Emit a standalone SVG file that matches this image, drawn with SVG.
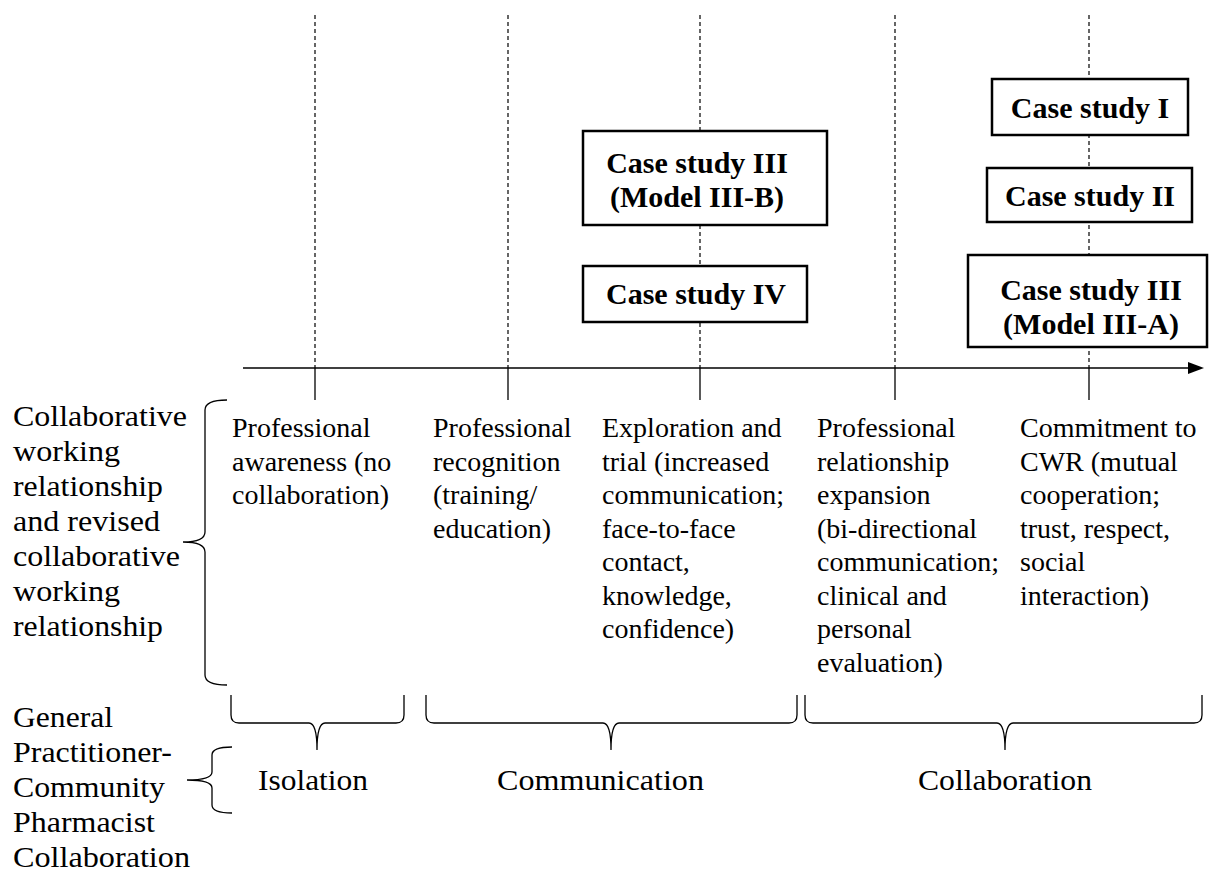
<svg xmlns="http://www.w3.org/2000/svg" width="1209" height="876" viewBox="0 0 1209 876">
<style>
.bg{fill:#fff}
.dash{stroke:#000;stroke-width:1.2;stroke-dasharray:4,3;fill:none}
.tick{stroke:#000;stroke-width:1.3;fill:none}
.axis{stroke:#000;stroke-width:1.5;fill:none}
.brace{stroke:#000;stroke-width:1.3;fill:none}
.box{fill:#fff;stroke:#000;stroke-width:2.5}
.bt{font-family:"Liberation Serif","Times New Roman",serif;font-weight:bold;font-size:30px;fill:#000;text-anchor:middle}
.mt{font-family:"Liberation Serif","Times New Roman",serif;font-size:28px;fill:#000}
.lt{font-family:"Liberation Serif","Times New Roman",serif;font-size:30px;fill:#000}
.ct{font-family:"Liberation Serif","Times New Roman",serif;font-size:30px;fill:#000}
</style>
<rect class="bg" x="0" y="0" width="1209" height="876"/>
<g id="connectors">
  <line class="dash" x1="315" y1="15" x2="315" y2="368"/>
  <line class="dash" x1="508" y1="15" x2="508" y2="368"/>
  <line class="dash" x1="700" y1="15" x2="700" y2="368"/>
  <line class="dash" x1="895" y1="15" x2="895" y2="368"/>
  <line class="dash" x1="1089" y1="15" x2="1089" y2="368"/>
  <line class="tick" x1="315" y1="368" x2="315" y2="400"/>
  <line class="tick" x1="508" y1="368" x2="508" y2="400"/>
  <line class="tick" x1="700" y1="368" x2="700" y2="400"/>
  <line class="tick" x1="895" y1="368" x2="895" y2="400"/>
  <line class="tick" x1="1089" y1="368" x2="1089" y2="400"/>
  <line class="axis" x1="243" y1="368" x2="1192" y2="368"/>
  <polygon points="1188,362 1204,368 1188,374" fill="#000"/>
  <path class="brace" d="M227,400 Q205,400 205,410 L205,532 Q205,542 183,542 Q205,542 205,552 L205,675 Q205,685 227,685"/>
  <path class="brace" d="M232,747 Q212,747 212,755 L212,772 Q212,780 187,780 Q212,780 212,788 L212,805 Q212,813 232,813"/>
  <path class="brace" d="M231,695 L231,715 Q231,723 239,723 L309,723 Q317,723 317,750 Q317,723 325,723 L396,723 Q404,723 404,715 L404,695"/>
  <path class="brace" d="M426,695 L426,715 Q426,723 434,723 L603,723 Q611,723 611,750 Q611,723 619,723 L789,723 Q797,723 797,715 L797,695"/>
  <path class="brace" d="M805,695 L805,715 Q805,723 813,723 L997,723 Q1005,723 1005,750 Q1005,723 1013,723 L1194,723 Q1202,723 1202,715 L1202,695"/>
</g>
<g id="box-cs3b">
  <rect class="box" x="583" y="131" width="244" height="94"/>
  <text class="bt" x="697" y="173">Case study III</text>
  <text class="bt" x="697" y="207">(Model III-B)</text>
</g>
<g id="box-cs4">
  <rect class="box" x="583" y="266" width="224" height="56"/>
  <text class="bt" x="696" y="304">Case study IV</text>
</g>
<g id="box-cs1">
  <rect class="box" x="992" y="79" width="196" height="56"/>
  <text class="bt" x="1090" y="118">Case study I</text>
</g>
<g id="box-cs2">
  <rect class="box" x="987" y="168" width="205" height="54"/>
  <text class="bt" x="1090" y="206">Case study II</text>
</g>
<g id="box-cs3a">
  <rect class="box" x="968" y="255" width="239" height="92"/>
  <text class="bt" x="1091" y="300">Case study III</text>
  <text class="bt" x="1091" y="334">(Model III-A)</text>
</g>
<g id="label-cwr">
  <text class="lt" x="13" y="426" textLength="174" lengthAdjust="spacingAndGlyphs">Collaborative</text>
  <text class="lt" x="13" y="461" textLength="107" lengthAdjust="spacingAndGlyphs">working</text>
  <text class="lt" x="13" y="496" textLength="150" lengthAdjust="spacingAndGlyphs">relationship</text>
  <text class="lt" x="13" y="531" textLength="147" lengthAdjust="spacingAndGlyphs">and revised</text>
  <text class="lt" x="13" y="566" textLength="167" lengthAdjust="spacingAndGlyphs">collaborative</text>
  <text class="lt" x="13" y="601" textLength="107" lengthAdjust="spacingAndGlyphs">working</text>
  <text class="lt" x="13" y="636" textLength="150" lengthAdjust="spacingAndGlyphs">relationship</text>
</g>
<g id="label-gpcp">
  <text class="lt" x="13" y="727" textLength="100" lengthAdjust="spacingAndGlyphs">General</text>
  <text class="lt" x="13" y="762" textLength="159" lengthAdjust="spacingAndGlyphs">Practitioner-</text>
  <text class="lt" x="13" y="797" textLength="152" lengthAdjust="spacingAndGlyphs">Community</text>
  <text class="lt" x="13" y="832" textLength="142" lengthAdjust="spacingAndGlyphs">Pharmacist</text>
  <text class="lt" x="13" y="867" textLength="177" lengthAdjust="spacingAndGlyphs">Collaboration</text>
</g>
<g id="stage-1">
  <text class="mt" x="232" y="437">Professional</text>
  <text class="mt" x="232" y="470.5">awareness (no</text>
  <text class="mt" x="232" y="504">collaboration)</text>
</g>
<g id="stage-2">
  <text class="mt" x="433" y="437">Professional</text>
  <text class="mt" x="433" y="470.5">recognition</text>
  <text class="mt" x="433" y="504">(training/</text>
  <text class="mt" x="433" y="537.5">education)</text>
</g>
<g id="stage-3">
  <text class="mt" x="602" y="437">Exploration and</text>
  <text class="mt" x="602" y="470.5">trial (increased</text>
  <text class="mt" x="602" y="504">communication;</text>
  <text class="mt" x="602" y="537.5">face-to-face</text>
  <text class="mt" x="602" y="571">contact,</text>
  <text class="mt" x="602" y="604.5">knowledge,</text>
  <text class="mt" x="602" y="638">confidence)</text>
</g>
<g id="stage-4">
  <text class="mt" x="817" y="437">Professional</text>
  <text class="mt" x="817" y="470.5">relationship</text>
  <text class="mt" x="817" y="504">expansion</text>
  <text class="mt" x="817" y="537.5">(bi-directional</text>
  <text class="mt" x="817" y="571">communication;</text>
  <text class="mt" x="817" y="604.5">clinical and</text>
  <text class="mt" x="817" y="638">personal</text>
  <text class="mt" x="817" y="671.5">evaluation)</text>
</g>
<g id="stage-5">
  <text class="mt" x="1020" y="437">Commitment to</text>
  <text class="mt" x="1020" y="470.5">CWR (mutual</text>
  <text class="mt" x="1020" y="504">cooperation;</text>
  <text class="mt" x="1020" y="537.5">trust, respect,</text>
  <text class="mt" x="1020" y="571">social</text>
  <text class="mt" x="1020" y="604.5">interaction)</text>
</g>
<g id="phase-isolation">
  <text class="ct" x="258" y="790" textLength="110" lengthAdjust="spacingAndGlyphs">Isolation</text>
</g>
<g id="phase-communication">
  <text class="ct" x="497" y="790" textLength="207" lengthAdjust="spacingAndGlyphs">Communication</text>
</g>
<g id="phase-collaboration">
  <text class="ct" x="918" y="790" textLength="174" lengthAdjust="spacingAndGlyphs">Collaboration</text>
</g>
</svg>
